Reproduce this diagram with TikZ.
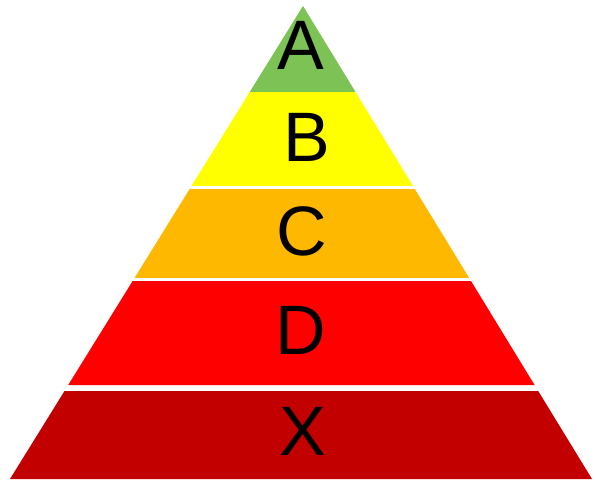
\documentclass[tikz,border=0pt]{standalone}
\usepackage{fontspec}
\setmainfont{Liberation Sans}
\usepackage{xcolor}
\usepackage{tikz}
\usetikzlibrary{calc}
\definecolor{levelA}{RGB}{124,194,84}
\definecolor{levelB}{RGB}{255,255,0}
\definecolor{levelC}{RGB}{255,184,0}
\definecolor{levelD}{RGB}{255,0,0}
\definecolor{levelX}{RGB}{194,0,0}
\tikzstyle{band} = [draw=none]
\tikzstyle{letter} = [inner sep=0pt, text=black, font=\fontsize{35}{40}\selectfont]

\begin{document}
\begin{tikzpicture}[x=0.5pt, y=-0.5pt]
    \useasboundingbox (0,0) rectangle (596,482);

    \coordinate (apex) at (303,6);
    \coordinate (bl) at (10,479);
    \coordinate (br) at (592,479);

    % bands, top to bottom
    \fill[band, levelA] (apex) -- ($(apex)!0.182!(br)$) -- ($(apex)!0.182!(bl)$) -- cycle;
    \fill[band, levelB] ($(apex)!0.182!(bl)$) -- ($(apex)!0.182!(br)$) -- ($(apex)!0.3805!(br)$) -- ($(apex)!0.3805!(bl)$) -- cycle;
    \fill[band, levelC] ($(apex)!0.3869!(bl)$) -- ($(apex)!0.3869!(br)$) -- ($(apex)!0.575!(br)$) -- ($(apex)!0.575!(bl)$) -- cycle;
    \fill[band, levelD] ($(apex)!0.5814!(bl)$) -- ($(apex)!0.5814!(br)$) -- ($(apex)!0.8013!(br)$) -- ($(apex)!0.8013!(bl)$) -- cycle;
    \fill[band, levelX] ($(apex)!0.814!(bl)$) -- ($(apex)!0.814!(br)$) -- (br) -- (bl) -- cycle;

    % labels
    \node[letter] (lA) at (301,45) {A};
    \node[letter] (lB) at (307,137) {B};
    \node[letter] (lC) at (302,231) {C};
    \node[letter] (lD) at (301,330) {D};
    \node[letter] (lX) at (303,431) {X};
\end{tikzpicture}
\end{document}
